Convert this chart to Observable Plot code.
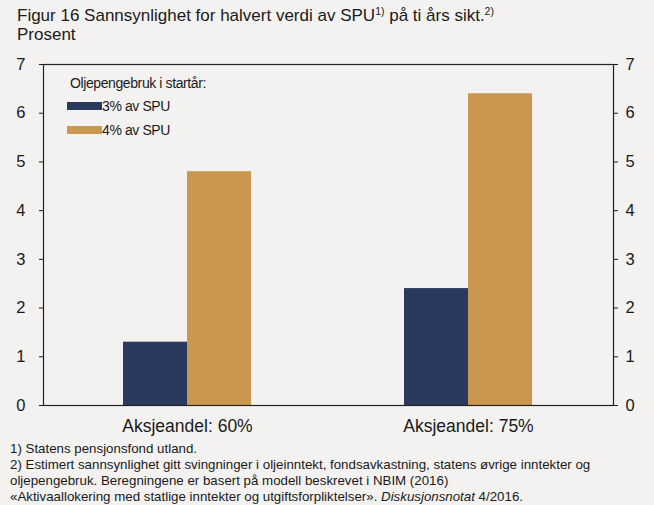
<!DOCTYPE html>
<html>
<head>
<meta charset="utf-8">
<script src="https://cdn.jsdelivr.net/npm/d3@7"></script>
<script src="https://cdn.jsdelivr.net/npm/@observablehq/plot@0.6"></script>
<style>
  html, body { margin: 0; padding: 0; background: #f3f2f0; }
  body { width: 654px; height: 505px; position: relative; overflow: hidden;
         font-family: "Liberation Sans", Arial, sans-serif; color: #1a1a1a; }
  #title { position: absolute; left: 17px; top: 7px; font-size: 17px; line-height: 18px; white-space: nowrap; }
  #title sup { font-size: 10.5px; vertical-align: 0; position: relative; top: -6px; }
  #chart { position: absolute; left: 0; top: 48px; }
  #legend { position: absolute; left: 67px; top: 75px; font-family: "Liberation Sans", Arial, sans-serif; font-size: 14px; letter-spacing: -0.4px; }
  #legend .lgtitle { height: 16px; line-height: 16px; margin-bottom: 7px; padding-left: 3px; }
  #caption { position: absolute; left: 10px; top: 441px; font-size: 13.3px; line-height: 16px; white-space: nowrap; }
  .lg-swatches { font-size: 14px !important; letter-spacing: -0.4px; font-family: "Liberation Sans", Arial, sans-serif !important; min-height: 0 !important; margin: 0 !important; }
  .lg-swatch { height: 16px !important; line-height: 16px !important; margin-bottom: 7.5px !important; padding-bottom: 0 !important; }
  .lg-swatch svg { margin-right: 0 !important; }
</style>
</head>
<body>
<div id="title">Figur 16 Sannsynlighet for halvert verdi av SPU<sup>1)</sup> på ti års sikt.<sup>2)</sup><br>Prosent</div>
<div id="chart"></div>
<div id="legend"><div class="lgtitle">Oljepengebruk i startår:</div></div>
<div id="caption">1) Statens pensjonsfond utland.<br>2) Estimert sannsynlighet gitt svingninger i oljeinntekt, fondsavkastning, statens øvrige inntekter og<br>oljepengebruk. Beregningene er basert på modell beskrevet i NBIM (2016)<br>«Aktivaallokering med statlige inntekter og utgiftsforpliktelser». <i>Diskusjonsnotat</i> 4/2016.</div>
<script>
const groups = ["Aksjeandel: 60%", "Aksjeandel: 75%"];
const series = ["3% av SPU", "4% av SPU"];
const values3 = [1.3, 2.4];
const values4 = [4.8, 6.4];
const yTicks = [0, 1, 2, 3, 4, 5, 6, 7];
const colors = ["#2a3a5e", "#c9974f"];

const data = groups.flatMap((g, i) => [
  {group: g, series: series[0], value: values3[i]},
  {group: g, series: series[1], value: values4[i]}
]);

const chart = Plot.plot({
  width: 654,
  height: 392,
  marginLeft: 43,
  marginRight: 41,
  marginTop: 16,
  marginBottom: 35,
  style: {fontFamily: "Liberation Sans, Arial, sans-serif", fontSize: "16px", background: "transparent", color: "#1a1a1a"},
  x: {domain: groups, paddingInner: 0.544, paddingOuter: 0.286, label: null},
  y: {domain: [0, 7], label: null},
  color: {domain: series, range: colors},
  marks: [
    Plot.barY(data.filter(d => d.series === series[0]), {x: "group", y: "value", fill: "series", insetRight: 64}),
    Plot.barY(data.filter(d => d.series === series[1]), {x: "group", y: "value", fill: "series", insetLeft: 64}),
    Plot.frame({stroke: "#222", strokeWidth: 1.2}),
    Plot.axisY({anchor: "left", ticks: yTicks, tickSize: 4, tickPadding: 14, label: null, fontSize: 16.5, tickFormat: d3.format("d")}),
    Plot.axisY({anchor: "right", ticks: yTicks, tickSize: 4, tickPadding: 8, label: null, fontSize: 16.5, tickFormat: d3.format("d")}),
    Plot.axisX({tickSize: 0, tickPadding: 14, label: null, fontSize: 17.5})
  ]
});
document.getElementById("chart").appendChild(chart);

const legend = Plot.legend({
  color: {domain: series, range: colors},
  legend: "swatches",
  columns: 1,
  swatchWidth: 35,
  swatchHeight: 8,
  className: "lg"
});
document.getElementById("legend").appendChild(legend);
</script>
</body>
</html>
